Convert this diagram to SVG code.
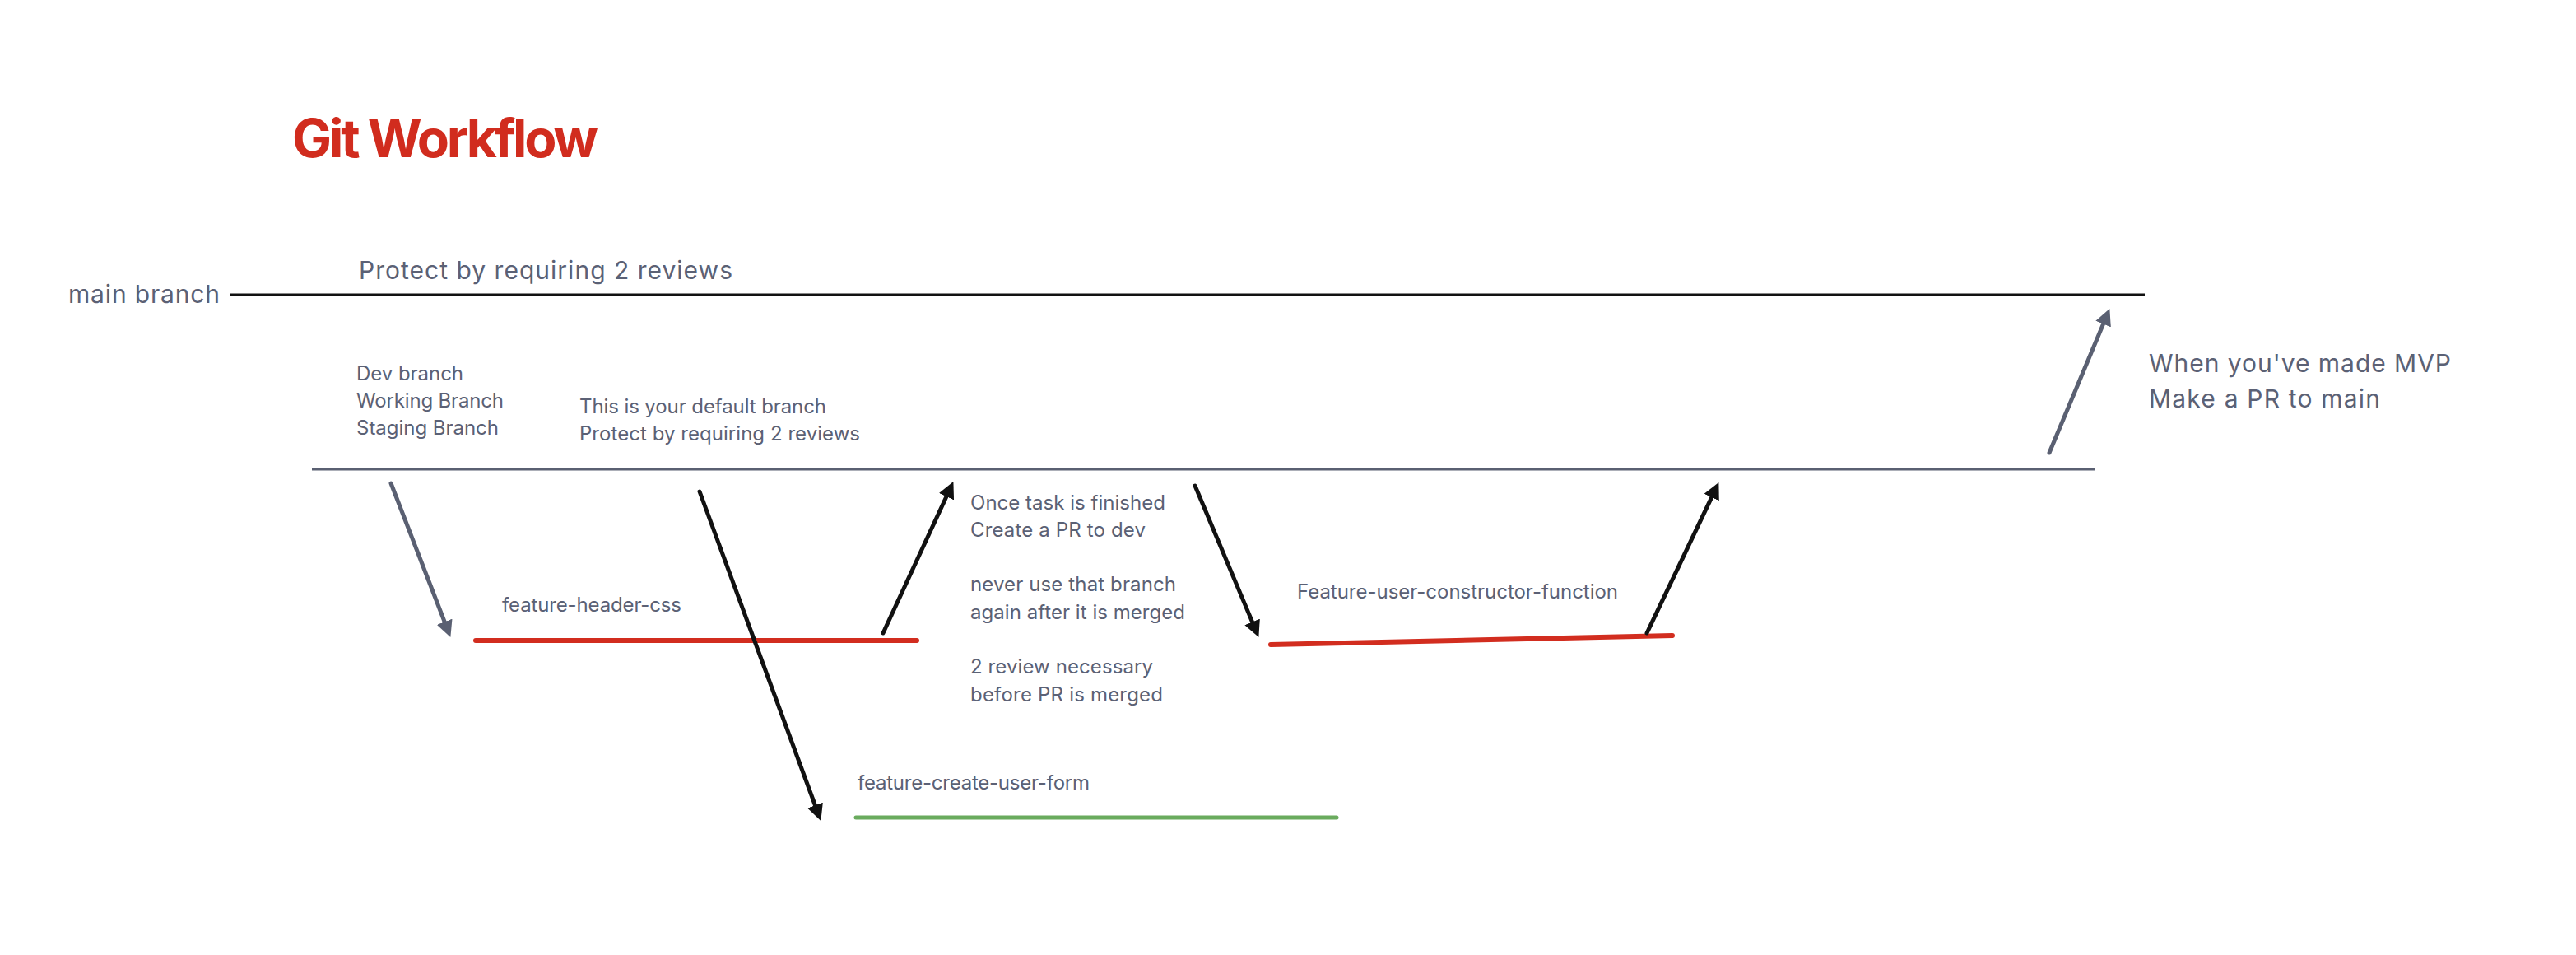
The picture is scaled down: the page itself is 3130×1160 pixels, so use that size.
<svg xmlns="http://www.w3.org/2000/svg" width="3130" height="1160" viewBox="0 0 3130 1160">
  <style>
    text { font-family: Inter, "Liberation Sans", "DejaVu Sans", sans-serif; fill: #5b6175; }
    .title { font-weight: 700; font-size: 64px; fill: #d12c1e; }
    .lg { font-size: 30px; }
    .sm { font-size: 24px; }
    .main { stroke: #111111; stroke-width: 3; fill: none; }
    .dev { stroke: #5a6072; stroke-width: 3; fill: none; }
    .red { stroke: #d22d1f; stroke-width: 6; stroke-linecap: round; fill: none; }
    .green { stroke: #6aab5e; stroke-width: 5; stroke-linecap: round; fill: none; }
    .arr-k { stroke: #111111; stroke-width: 5; stroke-linecap: round; fill: none; marker-end: url(#ah-k); }
    .arr-g { stroke: #5a6072; stroke-width: 5; stroke-linecap: round; fill: none; marker-end: url(#ah-g); }
  </style>
  <defs>
    <marker id="ah-k" viewBox="0 0 20 20" refX="1" refY="10" markerWidth="20" markerHeight="20" markerUnits="userSpaceOnUse" orient="auto">
      <path d="M0,0 L20,10 L0,20 z" fill="#111111"/>
    </marker>
    <marker id="ah-g" viewBox="0 0 20 20" refX="1" refY="10" markerWidth="20" markerHeight="20" markerUnits="userSpaceOnUse" orient="auto">
      <path d="M0,0 L20,10 L0,20 z" fill="#5a6072"/>
    </marker>
  </defs>
  <rect width="3130" height="1160" fill="#ffffff"/>

  <g id="title">
    <text class="title" x="355" y="191" textLength="372">Git Workflow</text>
  </g>

  <g id="main-branch">
    <text class="lg" x="83" y="368" textLength="184">main branch</text>
    <line class="main" x1="280" y1="358" x2="2606" y2="358"/>
    <text class="lg" x="436" y="339" textLength="454">Protect by requiring 2 reviews</text>
  </g>

  <g id="dev-branch">
    <text class="sm" x="433" y="462" textLength="130">Dev branch</text>
    <text class="sm" x="433" y="495" textLength="179">Working Branch</text>
    <text class="sm" x="433" y="528" textLength="173">Staging Branch</text>
    <text class="sm" x="704" y="502" textLength="300">This is your default branch</text>
    <text class="sm" x="704" y="535" textLength="341">Protect by requiring 2 reviews</text>
    <line class="dev" x1="379" y1="570" x2="2545" y2="570"/>
  </g>

  <g id="feature-header-css">
    <text class="sm" x="610" y="743" textLength="218">feature-header-css</text>
    <line class="red" x1="578" y1="778" x2="1114" y2="778"/>
  </g>

  <g id="pr-notes">
    <text class="sm" x="1179" y="619" textLength="237">Once task is finished</text>
    <text class="sm" x="1179" y="652" textLength="213">Create a PR to dev</text>
    <text class="sm" x="1179" y="718" textLength="250">never use that branch</text>
    <text class="sm" x="1179" y="752" textLength="261">again after it is merged</text>
    <text class="sm" x="1179" y="818" textLength="222">2 review necessary</text>
    <text class="sm" x="1179" y="852" textLength="234">before PR is merged</text>
  </g>

  <g id="feature-user-constructor-function">
    <text class="sm" x="1576" y="727" textLength="390">Feature-user-constructor-function</text>
    <line class="red" x1="1544" y1="783" x2="2032" y2="772"/>
  </g>

  <g id="feature-create-user-form">
    <text class="sm" x="1042" y="959" textLength="282">feature-create-user-form</text>
    <line class="green" x1="1040" y1="993" x2="1624" y2="993"/>
  </g>

  <g id="mvp-note">
    <text class="lg" x="2611" y="452" textLength="367">When you've made MVP</text>
    <text class="lg" x="2611" y="495" textLength="281">Make a PR to main</text>
  </g>

  <g id="connectors">
    <line class="arr-g" x1="475" y1="587" x2="540.5" y2="756.2"/>
    <line class="arr-k" x1="850" y1="597" x2="990.8" y2="979.1"/>
    <line class="arr-k" x1="1073" y1="769" x2="1150.4" y2="602.3"/>
    <line class="arr-k" x1="1452" y1="590" x2="1522" y2="756.4"/>
    <line class="arr-k" x1="2001" y1="769" x2="2080.2" y2="603.2"/>
    <line class="arr-g" x1="2490" y1="550" x2="2556" y2="392.6"/>
  </g>
</svg>
